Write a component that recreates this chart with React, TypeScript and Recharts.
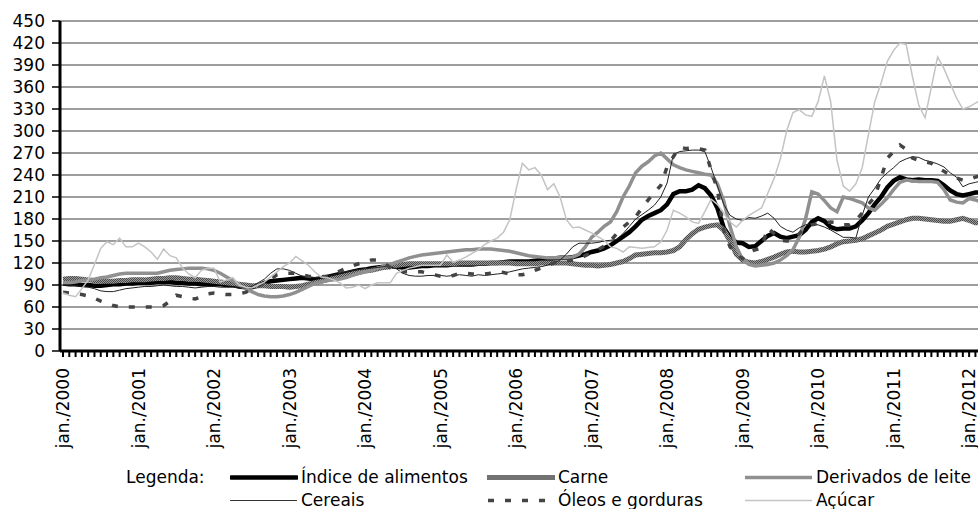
import React from 'react';
import { LineChart, Line, XAxis, YAxis, CartesianGrid } from 'recharts';

// monthly series, jan./2000 .. abr./2012 (2002-2004 = 100)
const years = [2000, 2001, 2002, 2003, 2004, 2005, 2006, 2007, 2008, 2009, 2010, 2011, 2012];
const monthNames = ['jan.', 'fev.', 'mar.', 'abr.', 'maio', 'jun.', 'jul.', 'ago.', 'set.', 'out.', 'nov.', 'dez.'];

const indice = [
  92, 91, 91, 90, 90, 89, 89, 90, 91, 91, 92, 92,
  93, 93, 93, 94, 94, 94, 93, 93, 92, 92, 91, 91,
  91, 91, 90, 90, 88, 87, 87, 89, 93, 95, 96, 97,
  98, 99, 100, 99, 98, 99, 101, 103, 105, 106, 108, 110,
  111, 113, 114, 115, 115, 115, 114, 114, 115, 116, 116, 117,
  117, 117, 118, 118, 118, 118, 119, 119, 120, 120, 121, 122,
  122, 122, 122, 123, 124, 125, 126, 127, 127, 128, 130, 132,
  135, 137, 140, 144, 150, 156, 162, 170, 179, 184, 188, 192,
  200, 214, 218, 218, 220, 226, 222, 212, 195, 168, 155, 148,
  147, 142, 143, 150, 157, 161, 156, 154, 156, 158, 165, 176,
  181, 177, 169, 166, 167, 167, 170, 178, 188, 200, 210, 223,
  232, 237, 234, 233, 234, 233, 233, 232, 226, 219, 214, 212,
  214, 216, 216, 215,
];

const carne = [
  98, 99, 99, 98, 97, 96, 95, 95, 95, 96, 96, 97,
  97, 97, 98, 99, 99, 100, 100, 99, 98, 98, 97, 96,
  95, 94, 93, 92, 91, 90, 89, 89, 89, 88, 88, 88,
  87, 88, 89, 91, 93, 95, 97, 99, 101, 103, 105, 107,
  109, 110, 112, 114, 115, 117, 118, 119, 119, 119, 119, 119,
  119, 119, 119, 120, 120, 120, 120, 120, 120, 120, 120, 120,
  119, 119, 119, 119, 120, 120, 120, 120, 120, 119, 118, 117,
  117, 116, 117, 118, 120, 122, 126, 131, 132, 133, 134, 134,
  135, 137, 142, 152, 160, 166, 169, 171, 172, 165, 150, 132,
  124, 121, 120, 122, 125, 128, 132, 135, 136, 135, 135, 136,
  137, 139, 142, 146, 149, 150, 151, 153, 157, 161, 165, 170,
  173, 176, 179, 181, 181, 180, 179, 178, 177, 177, 179, 181,
  178, 175, 175, 176,
];

const leite = [
  93, 93, 94, 96, 97, 98, 100, 101, 103, 105, 106, 106,
  106, 106, 106, 106, 108, 110, 111, 112, 113, 113, 113, 112,
  110, 106, 101, 96, 90, 85, 81, 77, 75, 74, 74, 75,
  77, 80, 84, 88, 92, 94, 96, 97, 98, 100, 103, 106,
  108, 110, 113, 115, 118, 121, 124, 127, 129, 131, 132, 133,
  134, 135, 136, 137, 138, 138, 139, 139, 139, 138, 137, 136,
  134, 132, 130, 129, 128, 127, 127, 127, 127, 128, 132, 142,
  155, 162, 170, 176, 190, 210, 225, 243, 252, 258, 266, 270,
  262, 254, 250, 247, 245, 243, 241, 240, 228, 205, 170, 142,
  125, 118, 116, 117, 118, 120, 124, 130, 138, 155, 180, 217,
  214, 205, 195, 190, 210, 208, 205, 202, 195, 192, 200, 209,
  220, 230, 233, 232, 231, 231, 231, 230, 220, 206, 203, 202,
  208, 206, 203, 201,
];

const cereais = [
  90, 90, 89, 88, 87, 85, 82, 81, 81, 83, 85, 86,
  87, 88, 88, 89, 90, 89, 88, 88, 87, 86, 87, 88,
  88, 87, 87, 87, 86, 86, 88, 93, 98, 106, 112, 112,
  110, 106, 102, 100, 100, 101, 102, 104, 106, 108, 110, 111,
  112, 113, 114, 115, 115, 112, 106, 103, 102, 102, 103, 103,
  103, 102, 103, 104, 103, 102, 104, 103, 104, 105, 106, 108,
  110, 112, 113, 114, 115, 117, 120, 124, 132, 142, 147, 147,
  147, 148, 150, 151, 152, 160, 170, 180, 186, 192, 199, 210,
  229, 268, 272, 273, 274, 274, 272, 250, 225, 200, 185, 180,
  178, 182, 181, 184, 188, 181, 170, 165, 162, 168, 172, 174,
  172, 169, 165, 160, 155, 155, 154, 185, 210, 222, 235, 243,
  250, 258, 262, 265, 264, 260, 258, 255, 251, 243, 237, 224,
  228, 230, 232, 233,
];

const oleos = [
  80, 79, 78, 77, 75, 72, 68, 65, 62, 60, 60, 60,
  60, 60, 60, 60, 62, 68, 76, 74, 72, 71, 74, 78,
  79, 78, 77, 77, 78, 80, 84, 88, 93, 98, 104, 106,
  106, 106, 104, 102, 101, 101, 102, 105, 109, 113, 116, 119,
  121, 124, 124, 120, 114, 110, 108, 108, 108, 108, 106, 104,
  102, 101, 103, 106, 106, 105, 105, 105, 106, 108, 107, 105,
  104, 104, 106, 110, 113, 116, 120, 122, 123, 124, 126, 130,
  134, 138, 143, 150, 160, 169, 176, 183, 195, 206, 216, 226,
  251, 265, 278, 276, 277, 276, 274, 247, 220, 165, 142, 132,
  126, 135, 138, 140, 168, 160, 151, 150, 151, 160, 169, 172,
  174, 175, 176, 175, 172, 172, 178, 188, 200, 210, 236, 263,
  272, 281, 275, 263, 260, 258, 256, 250, 245, 240, 236, 233,
  234, 237, 240, 240,
];

const acucar = [
  79, 76, 74, 85, 97, 118, 140, 149, 145, 154, 142, 142,
  147, 142, 135, 125, 139, 130, 127, 113, 105, 100, 110, 113,
  113, 94, 97, 100, 90, 87, 86, 90, 94, 101, 108, 115,
  120, 129, 123, 117, 108, 101, 100, 97, 93, 86, 87, 90,
  85, 90, 93, 93, 93, 106, 110, 113, 115, 117, 117, 117,
  117, 131, 121, 124, 128, 133, 138, 145, 150, 154, 162, 179,
  220, 256, 247, 250, 240, 220, 228, 210, 179, 168, 169, 165,
  161, 156, 151, 142, 140, 135, 142, 141, 140, 141, 142, 149,
  165, 192, 188, 183, 176, 174, 190, 207, 200, 188, 176, 169,
  178, 185, 190, 195, 215, 235, 262, 300, 325, 329, 322, 320,
  340, 375, 340, 260, 225, 218, 228, 250, 295, 340, 365, 395,
  410, 420, 418, 374, 335, 318, 360, 401, 385, 365, 345, 330,
  333, 338, 342, 345,
];

const yTicks = [0, 30, 60, 90, 120, 150, 180, 210, 240, 270, 300, 330, 360, 390, 420, 450];

const months = years.flatMap((y) => monthNames.map((m) => `${m}/${y}`)).slice(0, indice.length);

const data = months.map((month, i) => ({
  month,
  indice: indice[i],
  carne: carne[i],
  leite: leite[i],
  cereais: cereais[i],
  oleos: oleos[i],
  acucar: acucar[i],
}));

const FONT = '"DejaVu Sans", sans-serif';

const XTick = (props: any) => {
  const { x, payload } = props;
  const label = String(payload.value);
  if (!label.startsWith('jan.')) return <g />;
  return (
    <text
      transform={`translate(${x},368) rotate(-90)`}
      textAnchor="end"
      dy="0.36em"
      fontSize={17}
      fontFamily={FONT}
      fill="#000"
    >
      {label}
    </text>
  );
};

const legendItems = [
  { name: 'Índice de alimentos', left: 230, top: 477, kind: 'indice' },
  { name: 'Carne', left: 487, top: 477, kind: 'carne' },
  { name: 'Derivados de leite', left: 745, top: 477, kind: 'leite' },
  { name: 'Cereais', left: 230, top: 500, kind: 'cereais' },
  { name: 'Óleos e gorduras', left: 487, top: 500, kind: 'oleos' },
  { name: 'Açúcar', left: 745, top: 500, kind: 'acucar' },
];

function Texture({ id }: { id: string }) {
  return (
    <pattern id={id} width={2} height={2} patternUnits="userSpaceOnUse">
      <rect width={2} height={2} fill="#9a9a9a" />
      <rect width={1} height={1} fill="#4a4a4a" />
      <rect x={1} y={1} width={1} height={1} fill="#4a4a4a" />
    </pattern>
  );
}

function Sample({ kind }: { kind: string }) {
  return (
    <svg width={68} height={10} style={{ display: 'block' }}>
      <defs>
        <Texture id={`lg-${kind}`} />
      </defs>
      {kind === 'indice' && <line x1={1} x2={67} y1={5} y2={5} stroke="#000" strokeWidth={4.5} strokeLinecap="round" />}
      {kind === 'carne' && <line x1={0} x2={68} y1={5} y2={5} stroke={`url(#lg-${kind})`} strokeWidth={5} />}
      {kind === 'leite' && <line x1={0} x2={67} y1={5} y2={5} stroke="#909090" strokeWidth={3.5} />}
      {kind === 'cereais' && <line x1={0} x2={67} y1={5} y2={5} stroke="#333" strokeWidth={1} />}
      {kind === 'oleos' && <line x1={1} x2={68} y1={5} y2={5} stroke="#444" strokeWidth={3.5} strokeDasharray="6 11" />}
      {kind === 'acucar' && <line x1={0} x2={67} y1={5} y2={5} stroke="#c4c4c4" strokeWidth={1.5} />}
    </svg>
  );
}

export default function App() {
  return (
    <div
      style={{
        position: 'absolute',
        left: 0,
        top: 0,
        width: 978,
        height: 509,
        overflow: 'hidden',
        background: '#fff',
        fontFamily: FONT,
      }}
    >
      <LineChart width={1000} height={460} data={data} margin={{ top: 21, right: 9, left: 0, bottom: 0 }}>
        <defs>
          <Texture id="carneTexture" />
        </defs>
        <CartesianGrid vertical={false} stroke="#3c3c3c" strokeWidth={1} horizontal={{ shapeRendering: 'crispEdges' } as any} />
        <XAxis
          dataKey="month"
          type="category"
          interval={0}
          height={109}
          padding={{ left: 3, right: 3 }}
          axisLine={{ stroke: '#000', strokeWidth: 3 }}
          tickLine={{ stroke: '#000', strokeWidth: 2 }}
          tickSize={6}
          tick={<XTick />}
        />
        <YAxis
          width={60}
          domain={[0, 450]}
          ticks={yTicks}
          interval={0}
          axisLine={{ stroke: '#000', strokeWidth: 3 }}
          tickLine={{ stroke: '#000', strokeWidth: 1.5 }}
          tickSize={8}
          tickMargin={7}
          tick={{ fill: '#000', fontSize: 17, fontFamily: FONT }}
        />
        <Line dataKey="indice" name="Índice de alimentos" stroke="#000" strokeWidth={4.5} dot={false} activeDot={false} isAnimationActive={false} />
        <Line dataKey="carne" name="Carne" stroke="url(#carneTexture)" strokeWidth={5} dot={false} activeDot={false} isAnimationActive={false} />
        <Line dataKey="leite" name="Derivados de leite" stroke="#909090" strokeWidth={3.5} dot={false} activeDot={false} isAnimationActive={false} />
        <Line dataKey="cereais" name="Cereais" stroke="#222" strokeWidth={1} dot={false} activeDot={false} isAnimationActive={false} />
        <Line dataKey="oleos" name="Óleos e gorduras" stroke="#444" strokeWidth={3.5} strokeDasharray="6 11" dot={false} activeDot={false} isAnimationActive={false} />
        <Line dataKey="acucar" name="Açúcar" stroke="#c4c4c4" strokeWidth={1.5} dot={false} activeDot={false} isAnimationActive={false} />
      </LineChart>

      <div style={{ position: 'absolute', left: 126, top: 477, transform: 'translateY(-50%)', fontSize: 17, color: '#000', lineHeight: 1 }}>
        Legenda:
      </div>
      {legendItems.map((item) => (
        <div
          key={item.name}
          style={{
            position: 'absolute',
            left: item.left,
            top: item.top,
            transform: 'translateY(-50%)',
            display: 'flex',
            alignItems: 'center',
            fontSize: 17,
            color: '#000',
            lineHeight: 1,
            whiteSpace: 'nowrap',
          }}
        >
          <Sample kind={item.kind} />
          <span style={{ marginLeft: 3 }}>{item.name}</span>
        </div>
      ))}
    </div>
  );
}
